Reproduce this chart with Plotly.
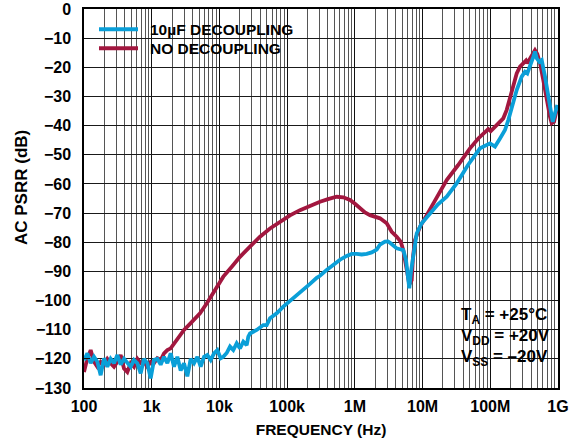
import plotly.graph_objects as go

# Low-frequency sweep points shared by both measurements (Hz)
LF_FREQ = [100, 112, 125.5, 140.5, 157.4, 176.3, 197.4, 221, 247.6, 277.4,
           310.7, 348, 389.8, 436.5, 489, 547.6, 613.4, 687, 769.5, 861.8,
           965.2, 1081, 1211, 1356, 1519, 1701, 1905, 2134, 2390, 2677,
           2999, 3359, 3762, 4213, 4719, 5286, 5920, 6630, 7427, 8318,
           9316, 10430]

# NO DECOUPLING (dB)
RED_LF = [-124.5, -119.8, -117, -121, -122.7, -121, -122, -120, -121.5, -122.7,
          -121, -118.7, -123.3, -124.5, -121.5, -122.7, -120, -121.5, -121, -122.7,
          -121, -121.5, -119.8, -120.4, -118.1, -117, -116.4, -114.7, -113.5, -111.8,
          -110.1]
RED_HF_FREQ = [3676, 5166, 6486, 8037, 11410, 15337, 20130, 28290, 39740, 55840,
               78430, 110200, 154800, 217600, 305700, 401200, 539500, 675100, 847800, 1.005e6,
               1.191e6, 1.412e6, 1.673e6, 1.984e6, 2.351e6, 2.953e6, 3.501e6, 4.150e6, 4.753e6, 5.192e6,
               5.830e6, 6.368e6, 6.910e6, 7.222e6, 7.730e6, 9.163e6, 11.51e6, 14.41e6, 18.09e6, 22.71e6,
               33.37e6, 50.17e6, 66.53e6, 78.86e6, 93.46e6, 101.4e6, 117.4e6, 139.2e6, 155.7e6, 174.8e6,
               195.5e6, 218.7e6, 245.5e6, 274.7e6, 307.3e6, 337.0e6, 352.2e6, 385.9e6, 431.8e6, 457.5e6,
               494.9e6, 542.3e6, 606.7e6, 680.9e6, 761.9e6, 807.2e6, 873.0e6, 956.8e6]
RED_HF = [-108, -104.4, -101, -97.5, -91.8, -88.3, -85.0, -81.5, -78.1, -75.3,
          -73.0, -70.8, -69.0, -67.5, -66.1, -65.2, -64.4, -64.6, -65.5, -66.8,
          -68.4, -69.8, -70.7, -71.4, -71.8, -73.5, -76.4, -78.1, -79.8, -82.7,
          -89.5, -94.5, -93, -85, -79.2, -74.7, -70.7, -66.7, -63.2, -58.7,
          -53.6, -47.8, -44.4, -42.7, -41.2, -41.9, -40.4, -38.7, -37.5, -34.6,
          -30.1, -25.5, -22.1, -19.8, -18.6, -17.7, -18.6, -16.9, -15.0, -14.1,
          -15.4, -18.6, -24.4, -31.2, -37.0, -39.2, -38.7, -34.6]

# 10uF DECOUPLING (dB)
BLUE_LF = [-120.5, -118.1, -121.5, -119.3, -121, -125.6, -119.8, -122.7, -120, -121.5,
           -118.7, -122, -120, -121.5, -122.7, -120.4, -121.5, -125, -120, -121.5,
           -126.7, -120.4, -120, -122, -119.3, -121.5, -118.1, -122.7, -119.3, -124,
           -121.5, -126, -120, -121.5, -119.3, -122.7, -119.3, -118.7, -120.4, -118.1,
           -117, -119.8]
BLUE_HF_FREQ = [11410, 12800, 14330, 16030, 17990, 20130, 22520, 25280, 26700, 28290,
                35520, 44450, 49910, 55840, 70130, 87750, 110200, 138400, 173200, 217600,
                273300, 305700, 383800, 480500, 603400, 757800, 898300, 1.065e6, 1.262e6, 1.496e6,
                1.773e6, 2.102e6, 2.351e6, 2.787e6, 3.086e6, 3.304e6, 3.696e6, 4.150e6, 4.642e6, 5.192e6,
                5.693e6, 6.156e6, 6.368e6, 6.746e6, 7.296e6, 8.190e6, 9.710e6, 12.88e6, 16.90e6, 22.71e6,
                31.92e6, 46.87e6, 70.49e6, 99.0e6, 117.4e6, 139.2e6, 164.9e6, 184.5e6, 207.1e6, 245.5e6,
                291.0e6, 325.6e6, 352.2e6, 385.9e6, 431.8e6, 457.5e6, 484.8e6, 529.6e6, 574.6e6, 643.0e6,
                719.4e6, 788.1e6, 835.1e6, 903.0e6, 976.6e6]
BLUE_HF = [-119.3, -118, -115.8, -117, -114.7, -116.4, -114.1, -115.3, -112.4, -111.3,
           -110.1, -108.4, -108.4, -106.1, -104.4, -102.1, -100.2, -98.1, -96.4, -94.3,
           -92.2, -91.5, -89.5, -87.8, -86, -84.7, -84.0, -84.0, -84.2, -84.0,
           -83.5, -82.5, -80.8, -79.8, -79.7, -80.2, -81.3, -82.1, -82.4, -82.7,
           -86.1, -93, -95.8, -90, -83.8, -77, -73.5, -70.1, -67.0, -64.4,
           -59.8, -53.5, -47.8, -46.1, -47.2, -44.4, -41.5, -38.1, -33.5, -27.8,
           -23.2, -21.5, -22.1, -19.8, -16.4, -14.6, -16.9, -18.1, -17.5, -23.2,
           -30.1, -37.0, -38.7, -35.8, -32.9]

SERIES = ["10µF DECOUPLING", "NO DECOUPLING"]
COLORS = ["#0a9fd8", "#a2173f"]

DECADES = [1e2, 1e3, 1e4, 1e5, 1e6, 1e7, 1e8, 1e9]
DECADE_LABELS = ["100", "1k", "10k", "100k", "1M", "10M", "100M", "1G"]
MINOR = [m * d for d in DECADES[:-1] for m in range(2, 10)]

FONT = "Liberation Sans, Arial, sans-serif"
TICK_FONT = dict(family=FONT, size=16, color="black", weight="bold")

red_freq = LF_FREQ[:len(RED_LF)] + RED_HF_FREQ
red_db = RED_LF + RED_HF
blue_freq = LF_FREQ + BLUE_HF_FREQ
blue_db = BLUE_LF + BLUE_HF

fig = go.Figure()
fig.add_trace(go.Scatter(x=red_freq, y=red_db, mode="lines", name=SERIES[1],
                         line=dict(color=COLORS[1], width=3.8)))
fig.add_trace(go.Scatter(x=blue_freq, y=blue_db, mode="lines", name=SERIES[0],
                         line=dict(color=COLORS[0], width=3.8)))

fig.update_layout(
    width=577, height=446,
    margin=dict(l=84, r=19, t=9, b=58),
    paper_bgcolor="white", plot_bgcolor="white",
    showlegend=False,
    font=dict(family=FONT, size=15.5, color="black", weight="bold"),
)

fig.update_xaxes(
    type="log", range=[2, 9], automargin=False,
    tickmode="array", tickvals=DECADES, ticktext=DECADE_LABELS,
    tickfont=TICK_FONT,
    ticks="inside", ticklen=6, tickcolor="#111", tickwidth=1,
    showgrid=True, gridcolor="#111", gridwidth=1,
    minor=dict(tickmode="array", tickvals=MINOR, ticks="inside", ticklen=6,
               tickcolor="#555", showgrid=True, gridcolor="#555", gridwidth=1),
    showline=True, linecolor="black", linewidth=1.5, mirror="allticks",
    ticklabelstandoff=3,
    title=dict(text="FREQUENCY (Hz)", standoff=10,
               font=dict(family=FONT, size=15.5, color="black", weight="bold")),
    zeroline=False,
)
fig.update_yaxes(
    range=[-130, 0], automargin=False,
    tickmode="linear", tick0=0, dtick=10,
    tickfont=TICK_FONT,
    ticks="inside", ticklen=6, tickcolor="#111", tickwidth=1,
    showgrid=True, gridcolor="#1a1a1a", gridwidth=1,
    showline=True, linecolor="black", linewidth=1.5, mirror="allticks",
    ticklabelstandoff=8,
    zeroline=False,
)


def px_x(px):
    return (px - 84) / 474.0


def px_y(py):
    return (388 - py) / 379.0


# Y-axis title
fig.add_annotation(xref="paper", yref="paper", x=px_x(21), y=px_y(188),
                   xanchor="center", yanchor="middle", showarrow=False,
                   textangle=-90, text="AC PSRR (dB)",
                   font=dict(family=FONT, size=17, color="black", weight="bold"))

# White panels behind the key and the conditions text (cover the grid only)
fig.add_shape(type="rect", xref="paper", yref="paper",
              x0=px_x(86), x1=px_x(300), y0=px_y(61), y1=px_y(15),
              fillcolor="white", line=dict(width=0), layer="between")
fig.add_shape(type="rect", xref="paper", yref="paper",
              x0=px_x(453), x1=px_x(552), y0=px_y(377), y1=px_y(300),
              fillcolor="white", line=dict(width=0), layer="between")

# Key
for label, color, ky in zip(SERIES, COLORS, [29.3, 48.3]):
    fig.add_shape(type="line", xref="paper", yref="paper",
                  x0=px_x(99), x1=px_x(138), y0=px_y(ky), y1=px_y(ky),
                  line=dict(color=color, width=4))
    fig.add_annotation(xref="paper", yref="paper", x=px_x(148), y=px_y(ky),
                       xanchor="left", yanchor="middle", showarrow=False,
                       text=label, font=dict(family=FONT, size=15.5, color="black",
                                             weight="bold"))

# Test conditions
CONDITIONS = ["T<sub>A</sub> = +25°C", "V<sub>DD</sub> = +20V", "V<sub>SS</sub> = –20V"]
for text, cy in zip(CONDITIONS, [316, 337, 358]):
    fig.add_annotation(xref="paper", yref="paper", x=px_x(459), y=px_y(cy),
                       xanchor="left", yanchor="middle", showarrow=False,
                       text=text, font=dict(family=FONT, size=17, color="black",
                                            weight="bold"))

fig.write_html("out.html")
